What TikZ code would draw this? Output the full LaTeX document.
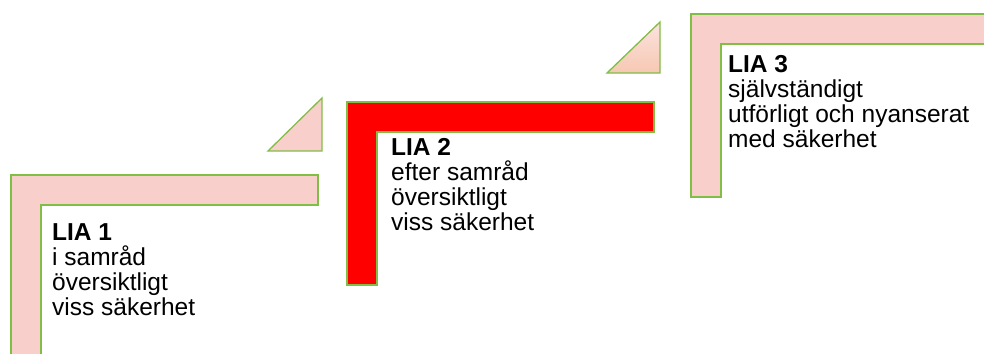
\documentclass[tikz,border=0pt]{standalone}
\usepackage{fontspec}
\setmainfont{Liberation Sans}
\definecolor{liapink}{RGB}{249,207,203}
\definecolor{liapeach}{RGB}{246,200,178}
\definecolor{liagreen}{RGB}{128,190,70}
\definecolor{liared}{RGB}{255,0,0}

\begin{document}
\begin{tikzpicture}[x=1pt,y=-1pt]
	\tikzstyle{stepbar} = [draw=liagreen,line width=1.3pt]
	\tikzstyle{arrowtri} = [stepbar,fill=liapink]
	\tikzstyle{steptext} = [anchor=base west,inner sep=0pt,align=left,font=\fontsize{24.5}{25}\selectfont]
	\useasboundingbox (0,0) rectangle (984,353);
	\clip (0,0) rectangle (984,353);
	% steps
	\foreach \x/\y/\c in {11/175/liapink, 347/102/liared, 691/14/liapink}
		\draw[stepbar,fill=\c] (\x,\y) -- ++(307,0) -- ++(0,30) -- ++(-277,0) -- ++(0,153) -- ++(-30,0) -- cycle;
	% triangles between the steps
	\draw[arrowtri] (268,151) -- (322,151) -- (322,98) -- cycle;
	\draw[arrowtri,top color=liapink!60!white,bottom color=liapeach] (607,73) -- (660,73) -- (660,22) -- cycle;
	% labels (anchored at the last baseline)
	\node[steptext] (lia1) at (52,315) {\textbf{LIA 1}\\i samråd\\översiktligt\\viss säkerhet};
	\node[steptext] (lia2) at (391,230) {\textbf{LIA 2}\\efter samråd\\översiktligt\\viss säkerhet};
	\node[steptext] (lia3) at (728,147) {\textbf{LIA 3}\\självständigt\\utförligt och nyanserat\\med säkerhet};
\end{tikzpicture}
\end{document}
